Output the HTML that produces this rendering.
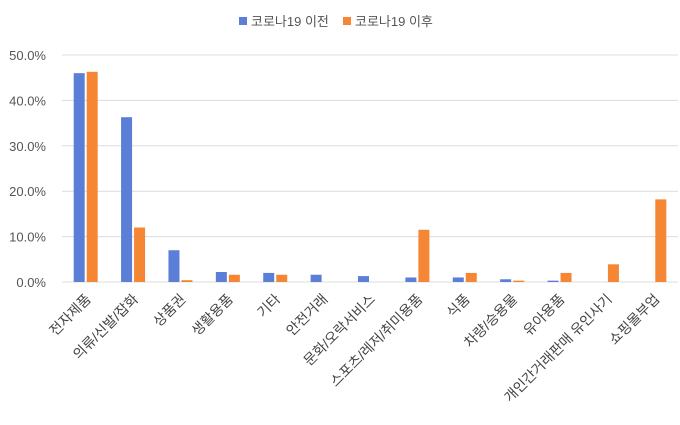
<!DOCTYPE html>
<html><head><meta charset="utf-8"><style>
body{margin:0;background:#fff;}
svg{display:block;font-family:"Liberation Sans","Noto Sans CJK KR",sans-serif;}
</style></head><body>
<svg id="c" width="680" height="425"></svg>
<script>
const categories=["전자제품","의류/신발/잡화","상품권","생활용품","기타","안전거래","문화/오락서비스","스포츠/레저/취미용품","식품","차량/승용물","유아용품","개인간거래판매 유인사기","쇼핑몰부업"];
const beforeVals=[46.0,36.3,7.0,2.2,2.0,1.6,1.3,1.0,1.0,0.6,0.3,0,0];
const afterVals=[46.3,12.0,0.4,1.6,1.6,0,0,11.5,2.0,0.3,2.0,3.9,18.2];
const ticks=[0,10,20,30,40,50];
const tickLabels=["0.0%","10.0%","20.0%","30.0%","40.0%","50.0%"];
const NS="http://www.w3.org/2000/svg";
const svg=document.getElementById('c');
const x0=62,x1=678,y0=282,yTop=55,yMax=50;
const bw=(x1-x0)/categories.length;
const y=v=>y0-(v/yMax)*(y0-yTop);
function mk(t,a){const e=document.createElementNS(NS,t);for(const k in a)e.setAttribute(k,a[k]);svg.appendChild(e);return e;}
ticks.forEach((t,i)=>{
  const g=mk('line',{x1:x0,x2:x1,y1:y(t),y2:y(t),stroke:'#dcdcdc','stroke-width':1});
  
  
  const l=mk('text',{x:46,y:y(t)+5,'text-anchor':'end','font-size':13,fill:'#555'});
  l.textContent=tickLabels[i];
  
  
});
categories.forEach((c,i)=>{
  const cx=x0+bw*(i+0.5);
  const b=mk('rect',{x:cx-12,y:y(beforeVals[i]),width:11,height:y0-y(beforeVals[i]),fill:'#5b7fd6'});
  
  
  const a=mk('rect',{x:cx+1,y:y(afterVals[i]),width:11,height:y0-y(afterVals[i]),fill:'#f58634'});
  
  
  const t=mk('text',{x:cx+6,y:y0+18,'text-anchor':'end','font-size':14,fill:'#444',transform:`rotate(-45 ${cx+6} ${y0+18})`});
  t.textContent=c;
  
  
});
</script>
<svg style="position:absolute;left:0;top:0" width="680" height="44">
<g><rect x="239" y="17" width="8" height="8" fill="#5b7fd6"/><text x="251" y="26" font-size="13" fill="#555" font-family="Liberation Sans,Noto Sans CJK KR,sans-serif">코로나19 이전</text></g>
<g><rect x="343" y="17" width="8" height="8" fill="#f58634"/><text x="355" y="26" font-size="13" fill="#555" font-family="Liberation Sans,Noto Sans CJK KR,sans-serif">코로나19 이후</text></g>
</svg>
</body></html>
